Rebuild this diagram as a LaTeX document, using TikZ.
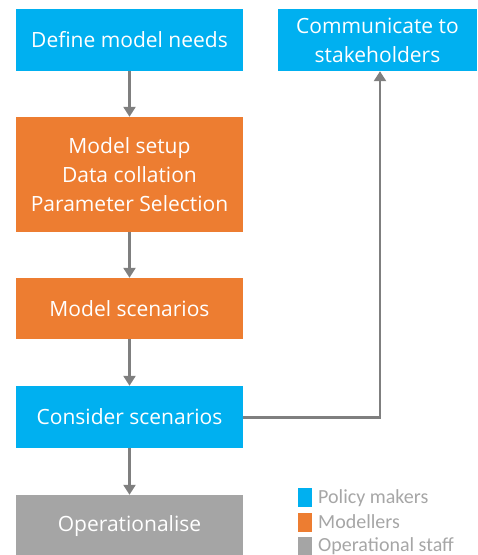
\documentclass[tikz,border=0pt]{standalone}
\usepackage{fontspec}
\setmainfont{Carlito}
\newfontfamily\boxfont{Open Sans}
\usetikzlibrary{arrows.meta}
\definecolor{pcyan}{HTML}{00B0F0}
\definecolor{porange}{HTML}{ED7D31}
\definecolor{pgray}{HTML}{A5A5A5}
\definecolor{parrow}{HTML}{7F7F7F}
\definecolor{ptext}{HTML}{A6A6A6}
\begin{document}
\begin{tikzpicture}[x=1pt,y=-1pt,
  boxstyle/.style={draw=none,inner sep=0pt,align=center,text=white,font=\boxfont\fontsize{21}{29}\selectfont},
  conn/.style={draw=parrow,line width=2.4pt,-{Triangle[length=10pt,width=12pt]}},
  legsq/.style={inner sep=0pt,minimum width=14pt,minimum height=19pt,anchor=north west},
  legtxt/.style={anchor=west,inner sep=0pt,text=ptext,font=\fontsize{20}{20}\selectfont}]
\useasboundingbox (0,0) rectangle (478,555);
\node[boxstyle,fill=pcyan,minimum width=227pt,minimum height=62pt] (define) at (129.5,40) {Define model needs};
\node[boxstyle,fill=pcyan,minimum width=199pt,minimum height=62pt] (comm) at (377.5,40) {Communicate to\\stakeholders};
\node[boxstyle,fill=porange,minimum width=227pt,minimum height=115pt] (setup) at (129.5,174.5) {Model setup\\Data collation\\Parameter Selection};
\node[boxstyle,fill=porange,minimum width=227pt,minimum height=61pt] (scen) at (129.5,308.5) {Model scenarios};
\node[boxstyle,fill=pcyan,minimum width=227pt,minimum height=62pt] (cons) at (129.5,417) {Consider scenarios};
\node[boxstyle,fill=pgray,minimum width=227pt,minimum height=62pt] (oper) at (129.5,526) {Operationalise};
\draw[conn] (define) -- (setup);
\draw[conn] (setup) -- (scen);
\draw[conn] (scen) -- (cons);
\draw[conn] (cons) -- (oper);
\coordinate (bend) at (380,417.5);
\draw[conn] (cons.east |- bend) -- (bend) -- (bend |- comm.south);
\node[legsq,fill=pcyan] (l1) at (298,488) {};
\node[legsq,fill=porange] (l2) at (298,513) {};
\node[legsq,fill=pgray] (l3) at (298,537) {};
\node[legtxt] (t1) at (318,498) {Policy makers};
\node[legtxt] (t2) at (318,522) {Modellers};
\node[legtxt] (t3) at (318,546) {Operational staff};
\end{tikzpicture}
\end{document}
